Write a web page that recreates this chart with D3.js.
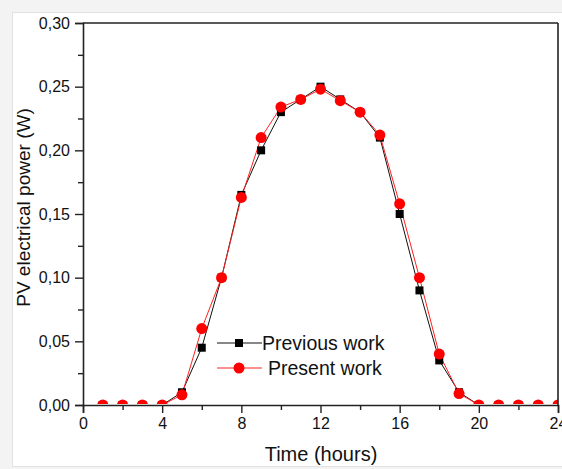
<!DOCTYPE html>
<html><head><meta charset="utf-8">
<script src="https://cdn.jsdelivr.net/npm/d3@7"></script>
<style>
html,body{margin:0;padding:0;background:#f3f3f3;}
svg{display:block;}
text{font-family:"Liberation Sans",Arial,sans-serif;fill:#111;}
</style></head>
<body>
<svg id="chart" width="562" height="469"></svg>
<script>
const hours = [1,2,3,4,5,6,7,8,9,10,11,12,13,14,15,16,17,18,19,20,21,22,23,24];
const previousWork = [0,0,0,0,0.010,0.045,0.100,0.165,0.200,0.230,0.240,0.250,0.240,0.230,0.210,0.150,0.090,0.035,0.010,0,0,0,0,0];
const presentWork  = [0,0,0,0,0.008,0.060,0.100,0.163,0.210,0.234,0.240,0.248,0.239,0.230,0.212,0.158,0.100,0.040,0.009,0,0,0,0,0];
const xTicks = [0,4,8,12,16,20,24];
const yTicks = [0,0.05,0.10,0.15,0.20,0.25,0.30];
const seriesNames = ["Previous work","Present work"];

const svg = d3.select("#chart");
// white card
svg.append("rect").attr("x",12.5).attr("y",12.5).attr("width",560).attr("height",454)
  .attr("fill","#fff").attr("stroke","#e2e2e2");

const L=83, R=558, T=23, B=405;
const x = d3.scaleLinear().domain([0,24]).range([L,R]);
const y = d3.scaleLinear().domain([0,0.30]).range([B,T]);
const fmt = d => d.toFixed(2).replace(".",",");

svg.append("clipPath").attr("id","clip").append("rect")
  .attr("x",L).attr("y",T).attr("width",R-L).attr("height",B-T-1);

// series
const plot = svg.append("g").attr("clip-path","url(#clip)");
const line = d3.line().x((d,i)=>x(hours[i])).y(d=>y(d));
plot.append("path").datum(previousWork).attr("d",line).attr("fill","none").attr("stroke","#111").attr("stroke-width",1);
plot.append("path").datum(presentWork).attr("d",line).attr("fill","none").attr("stroke","#ff2020").attr("stroke-width",1);
plot.selectAll("rect.sq").data(previousWork).enter().append("rect").attr("class","sq")
  .attr("x",(d,i)=>x(hours[i])-4).attr("y",d=>y(d)-4).attr("width",8).attr("height",8).attr("fill","#000");
plot.selectAll("circle.ci").data(presentWork).enter().append("circle").attr("class","ci")
  .attr("cx",(d,i)=>x(hours[i])).attr("cy",d=>y(d)).attr("r",5.5).attr("fill","#ff0000");

// frame top/right
svg.append("line").attr("x1",L).attr("x2",R).attr("y1",T).attr("y2",T).attr("stroke","#222").attr("stroke-width",1.6);
svg.append("line").attr("x1",R).attr("x2",R).attr("y1",T).attr("y2",B).attr("stroke","#222").attr("stroke-width",1.6);

// axes
const xAxis = svg.append("g").attr("transform",`translate(0,${B})`)
  .call(d3.axisBottom(x).tickValues(xTicks).tickSize(8).tickPadding(5).tickFormat(d3.format("d")));
const xMinor = svg.append("g").attr("transform",`translate(0,${B})`)
  .call(d3.axisBottom(x).tickValues(d3.range(2,24,4)).tickSize(5).tickFormat(""));
const yAxis = svg.append("g").attr("transform",`translate(${L},0)`)
  .call(d3.axisLeft(y).tickValues(yTicks).tickSize(8).tickPadding(5).tickFormat(fmt));
const yMinor = svg.append("g").attr("transform",`translate(${L},0)`)
  .call(d3.axisLeft(y).tickValues(d3.range(0.025,0.30,0.05)).tickSize(5).tickFormat(""));
[xAxis,xMinor,yAxis,yMinor].forEach(g=>{
  g.selectAll("path.domain").attr("stroke","#222").attr("stroke-width",1.6);
  g.selectAll(".tick line").attr("stroke","#222").attr("stroke-width",1.4);
  g.selectAll("text").attr("font-size",16).attr("font-family","Liberation Sans, Arial, sans-serif").attr("fill","#111");
});
xMinor.select("path.domain").remove(); yMinor.select("path.domain").remove();

// titles
svg.append("text").attr("x",321).attr("y",461).attr("text-anchor","middle")
  .attr("font-size",20).text("Time (hours)");
svg.append("text").attr("transform",`translate(30,207.5) rotate(-90)`).attr("text-anchor","middle")
  .attr("font-size",19).text("PV electrical power (W)");

// legend
const lg = svg.append("g");
lg.append("line").attr("x1",217).attr("x2",262).attr("y1",343).attr("y2",343).attr("stroke","#111").attr("stroke-width",1);
lg.append("rect").attr("x",235).attr("y",339).attr("width",8).attr("height",8).attr("fill","#000");
lg.append("text").attr("x",262).attr("y",350).attr("font-size",19.5).text(seriesNames[0]);
lg.append("line").attr("x1",217).attr("x2",262).attr("y1",368).attr("y2",368).attr("stroke","#ff2020").attr("stroke-width",1);
lg.append("circle").attr("cx",239).attr("cy",368).attr("r",5.5).attr("fill","#ff0000");
lg.append("text").attr("x",268).attr("y",375).attr("font-size",19.5).text(seriesNames[1]);
</script>
</body></html>
